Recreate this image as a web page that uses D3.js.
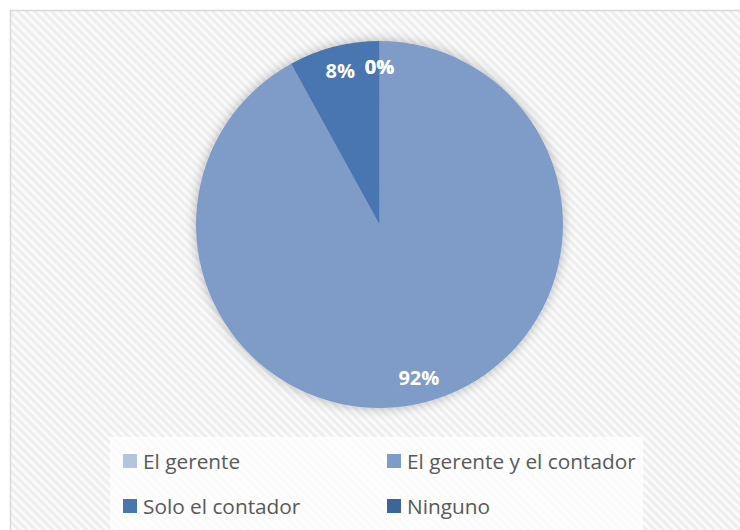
<!DOCTYPE html>
<html>
<head>
<meta charset="utf-8">
<script src="https://cdn.jsdelivr.net/npm/d3@7"></script>
<style>
  body { margin: 0; background: #fff; }
  svg { display: block; }
</style>
</head>
<body>
<script>
// data
var categories = ["El gerente", "El gerente y el contador", "Solo el contador", "Ninguno"];
var values = [0, 92, 8, 0];
var labels = ["0%", "92%", "8%", "0%"];
var colors = ["#b4c3de", "#7f9cc8", "#4a76b0", "#3d6597"];

var width = 740, height = 530;
var cx = 379.5, cy = 224.5, radius = 183.5;

var svg = d3.select("body")
    .append("svg")
    .attr("width", width)
    .attr("height", height);

var defs = svg.append("defs");

// diagonal hatch background
var pat = defs.append("pattern")
    .attr("id", "hatch")
    .attr("patternUnits", "userSpaceOnUse")
    .attr("width", 6)
    .attr("height", 6)
    .attr("patternTransform", "rotate(45)");
pat.append("rect").attr("width", 6).attr("height", 6).attr("fill", "#fbfbfb");
pat.append("rect").attr("width", 6).attr("height", 3).attr("fill", "#eeeeee");

// soft glow under the pie
var f = defs.append("filter")
    .attr("id", "glow")
    .attr("x", "-20%").attr("y", "-20%")
    .attr("width", "140%").attr("height", "140%");
f.append("feGaussianBlur").attr("in", "SourceAlpha").attr("stdDeviation", 6).attr("result", "b");
f.append("feFlood").attr("flood-color", "#000").attr("flood-opacity", 0.28);
f.append("feComposite").attr("in2", "b").attr("operator", "in").attr("result", "s");
var m = f.append("feMerge");
m.append("feMergeNode").attr("in", "s");
m.append("feMergeNode").attr("in", "SourceGraphic");

// chart area
svg.append("rect")
    .attr("x", 10.5).attr("y", 10.5)
    .attr("width", 740).attr("height", 530)
    .attr("fill", "url(#hatch)")
    .attr("stroke", "#d9d9d9")
    .attr("stroke-width", 1.5);

var pie = d3.pie().sort(null).value(d => d);
var arcs = pie(values);
var arc = d3.arc().innerRadius(0).outerRadius(radius);
var labelArc = d3.arc().innerRadius(radius * 0.862).outerRadius(radius * 0.862);

var g = svg.append("g")
    .attr("transform", "translate(" + cx + "," + cy + ")");

var slices = g.append("g").attr("filter", "url(#glow)");
slices.selectAll("path")
    .data(arcs)
    .enter()
    .append("path")
    .attr("d", arc)
    .attr("fill", (d, i) => colors[i]);

g.selectAll("text.lbl")
    .data(arcs)
    .enter()
    .append("text")
    .attr("class", "lbl")
    .attr("transform", d => "translate(" + labelArc.centroid(d) + ")")
    .attr("text-anchor", "middle")
    .attr("dy", "0.36em")
    .attr("fill", "#fff")
    .style("font-family", "'Open Sans', sans-serif")
    .style("font-weight", "bold")
    .style("font-size", "20px")
    .text((d, i) => labels[i]);

// legend
var legend = svg.append("g");
legend.append("rect")
    .attr("x", 110).attr("y", 437)
    .attr("width", 533).attr("height", 100)
    .attr("fill", "#fff")
    .attr("fill-opacity", 0.75);

var legX = [123, 387], legY = [461, 506];
var items = legend.selectAll("g.item")
    .data(categories)
    .enter()
    .append("g")
    .attr("class", "item")
    .attr("transform", (d, i) => "translate(" + legX[i % 2] + "," + legY[Math.floor(i / 2)] + ")");

items.append("rect")
    .attr("x", 0).attr("y", -7)
    .attr("width", 14).attr("height", 14)
    .attr("fill", (d, i) => colors[i]);

items.append("text")
    .attr("x", 20)
    .attr("dy", "0.36em")
    .attr("fill", "#595959")
    .style("font-family", "'Open Sans', sans-serif")
    .style("font-size", "20.8px")
    .text(d => d);
</script>
</body>
</html>
